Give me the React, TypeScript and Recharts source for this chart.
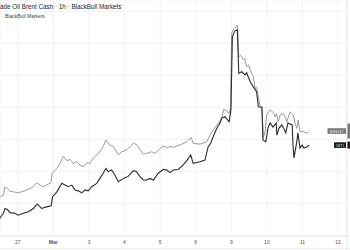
import React from 'react';
import { LineChart, Line, XAxis, YAxis, CartesianGrid, ReferenceDot } from 'recharts';

// Trading-day index: 0 = Feb 27, 1 = Mar 2, ... (weekends skipped)
const dayTicks = [0, 1, 2, 3, 4, 5, 6, 7, 8, 9];
const dayLabels = ['27', 'Mar', '3', '4', '5', '6', '9', '10', '11', '12'];
const priceTicks = [55, 60, 65, 70, 75, 80, 85, 90, 95, 100, 105, 110, 115, 120, 125];

const brentTime = [
  -0.53, -0.4, -0.357, -0.31, -0.216, -0.124, 0.017, 0.157, 0.3, 0.44, 0.53, 0.63, 0.72, 0.81, 0.93,
  0.97, 1.1, 1.19, 1.28, 1.38, 1.47, 1.56, 1.66, 1.75, 1.84, 1.94, 2.03, 2.12, 2.31, 2.4, 2.48, 2.59,
  2.69, 2.83, 2.92, 3.06, 3.25, 3.34, 3.44, 3.53, 3.62, 3.76, 3.86, 4.0, 4.09, 4.19, 4.28, 4.37, 4.47,
  4.61, 4.75, 4.87, 4.93, 5.12, 5.31, 5.4, 5.49, 5.63, 5.73, 5.79, 5.87, 5.94, 5.98, 6.01, 6.06, 6.1,
  6.17, 6.21, 6.26, 6.34, 6.38, 6.43, 6.48, 6.54, 6.62, 6.67, 6.71, 6.76, 6.81, 6.86, 6.9, 6.95, 6.99,
  7.09, 7.18, 7.23, 7.27, 7.32, 7.37, 7.46, 7.51, 7.56, 7.65, 7.74, 7.79, 7.84, 7.88, 7.93, 8.02, 8.12,
  8.19,
];
const brentPrice = [
  66.8, 67.6, 70.1, 69.8, 68.8, 68.6, 68.3, 68.75, 69.4, 70.2, 71.4, 70.7, 70.2, 70.7, 71.4,
  74.4, 75.9, 77.5, 79.8, 78.3, 78.75, 77.5, 78.0, 77.0, 76.4, 77.7, 77.5, 79.1, 81.1, 82.7, 84.8, 83.2,
  82.7, 80.1, 81.1, 81.7, 83.75, 83.4, 81.7, 80.4, 80.6, 81.1, 80.6, 82.2, 82.9, 82.5, 82.7, 82.5, 82.9,
  83.5, 84.25, 85.6, 83.75, 83.5, 84.2, 86.3, 87.9, 90.0, 91.6, 94.4, 93.9, 93.1, 95.0, 118.1, 119.4, 119.7,
  120.7, 110.8, 111.3, 109.8, 110.3, 107.7, 108.2, 106.4, 104.6, 100.9, 101.25, 98.3, 95.4, 95.0, 85.6, 87.3, 92.6,
  94.2, 93.4, 92.0, 93.1, 90.4, 92.6, 93.1, 92.1, 90.5, 93.6, 92.6, 90.0, 88.4, 91.0, 87.4, 87.4, 86.9,
  87.6,
];

const wtiTime = [
  -0.53, -0.4, -0.357, -0.29, -0.216, -0.076, 0.017, 0.157, 0.3, 0.44, 0.55, 0.67, 0.81, 0.94,
  0.98, 1.1, 1.24, 1.33, 1.42, 1.52, 1.61, 1.7, 1.8, 1.89, 1.98, 2.08, 2.22, 2.31, 2.4, 2.48, 2.54,
  2.64, 2.73, 2.83, 2.97, 3.11, 3.25, 3.34, 3.44, 3.53, 3.62, 3.72, 3.81, 3.95, 4.09, 4.19, 4.28, 4.37,
  4.51, 4.65, 4.76, 4.86, 4.93, 5.12, 5.26, 5.35, 5.42, 5.49, 5.59, 5.68, 5.73, 5.82, 5.94, 5.99, 6.03,
  6.1, 6.17, 6.21, 6.29, 6.39, 6.43, 6.53, 6.62, 6.71, 6.76, 6.86, 6.89, 6.97, 7.03, 7.09, 7.17, 7.26,
  7.28, 7.34, 7.42, 7.47, 7.53, 7.59, 7.71, 7.73, 7.76, 7.84, 7.87, 7.93, 7.99, 8.04, 8.12, 8.19,
];
const wtiPrice = [
  60.0, 61.9, 63.4, 63.1, 62.1, 61.9, 61.3, 61.9, 62.4, 63.4, 64.8, 63.4, 63.9, 64.2,
  67.1, 68.6, 71.25, 70.7, 70.2, 70.7, 69.2, 68.9, 68.3, 69.2, 68.9, 70.2, 71.25, 72.8, 74.4, 75.9, 74.9,
  75.4, 73.8, 71.75, 72.8, 73.5, 75.2, 74.9, 73.3, 72.3, 72.3, 72.8, 72.3, 74.4, 75.6, 75.4, 74.6, 75.4,
  75.6, 77.0, 78.5, 80.1, 77.5, 78.0, 78.5, 82.7, 83.75, 85.8, 88.4, 90.0, 91.6, 92.1, 90.5, 94.2, 117.1,
  118.9, 119.2, 105.6, 106.1, 105.1, 105.8, 103.0, 101.4, 99.9, 95.2, 95.0, 84.8, 84.2, 88.5, 90.1, 88.8, 90.1,
  86.3, 88.5, 89.5, 88.5, 87.0, 90.1, 89.5, 83.8, 79.2, 84.2, 87.0, 82.3, 83.2, 82.3, 82.6, 83.2,
];

const brentData = brentTime.map((t, i) => ({ t, v: brentPrice[i] }));
const wtiData = wtiTime.map((t, i) => ({ t, v: wtiPrice[i] }));

const X_DOMAIN: [number, number] = [-0.497, 9.25];
const Y_DOMAIN: [number, number] = [54.8, 128.53];

const FONT = '"Liberation Sans", Arial, sans-serif';

const DayTick = (props: any) => {
  const { x, y, payload } = props;
  const label = dayLabels[payload.value] ?? '';
  return (
    <text
      x={x}
      y={y}
      dy={5.5}
      textAnchor="middle"
      fontSize={5}
      fontFamily={FONT}
      fontWeight={label === 'Mar' ? 700 : 400}
      fill="#555"
    >
      {label}
    </text>
  );
};

const makeTag = (name: string, boxFill: string, boxW: number, axisH: number) => (props: any) => {
  const { cx, cy } = props;
  if (cx == null || cy == null) return <g />;
  return (
    <g>
      <rect x={cx - 1 - boxW} y={cy - 2.8} width={boxW} height={5.6} fill={boxFill} />
      <text
        x={cx - 1 - boxW / 2}
        y={cy + 1.5}
        textAnchor="middle"
        fontSize={4.2}
        fontFamily={FONT}
        fill="#ddd"
      >
        {name}
      </text>
      <rect x={cx + 0.3} y={cy - axisH / 2} width={4} height={axisH} fill={boxFill} />
    </g>
  );
};

const BrentTag = makeTag('BRENT', '#7a7a7a', 18.5, 15);
const WtiTag = makeTag('WTI', '#1c1c1c', 12, 7);

export default function App() {
  return (
    <div style={{ position: 'fixed', left: 0, top: 0, width: 350, height: 250, background: '#fff' }}>
      <LineChart width={350} height={250} data={[]} margin={{ top: 0, right: 3, bottom: 0, left: 0 }}>
        <CartesianGrid stroke="#f0f0f0" strokeWidth={0.8} />
        <XAxis
          type="number"
          dataKey="t"
          domain={X_DOMAIN}
          allowDataOverflow
          ticks={dayTicks}
          tick={<DayTick />}
          tickLine={false}
          tickSize={0}
          axisLine={{ stroke: '#e6e6e6', strokeWidth: 0.8 }}
          height={14}
          interval={0}
        />
        <YAxis type="number" hide domain={Y_DOMAIN} allowDataOverflow ticks={priceTicks} />
        <Line
          data={brentData}
          dataKey="v"
          type="linear"
          stroke="#9a9a9a"
          strokeWidth={1}
          dot={false}
          activeDot={false}
          isAnimationActive={false}
        />
        <Line
          data={wtiData}
          dataKey="v"
          type="linear"
          stroke="#2a2a2a"
          strokeWidth={1.1}
          dot={false}
          activeDot={false}
          isAnimationActive={false}
        />
        <ReferenceDot
          x={X_DOMAIN[1]}
          y={brentPrice[brentPrice.length - 1]}
          ifOverflow="visible"
          shape={BrentTag}
        />
        <ReferenceDot
          x={X_DOMAIN[1]}
          y={wtiPrice[wtiPrice.length - 1]}
          ifOverflow="visible"
          shape={WtiTag}
        />
      </LineChart>
      <svg
        width={350}
        height={250}
        style={{ position: 'absolute', left: 0, top: 0, pointerEvents: 'none' }}
      >
        <line x1={346.8} y1={0} x2={346.8} y2={250} stroke="#e6e6e6" strokeWidth={0.8} />
        <line x1={0} y1={248.5} x2={350} y2={248.5} stroke="#ececec" strokeWidth={0.8} />
        <text x={0} y={9.4} fontSize={6.3} fontFamily={FONT} fill="#222">
          ade Oil Brent Cash · 1h · BlackBull Markets
        </text>
        <text x={2} y={18.3} fontSize={5} fontFamily={FONT} fill="#444">
          · BlackBull Markets
        </text>
      </svg>
    </div>
  );
}
